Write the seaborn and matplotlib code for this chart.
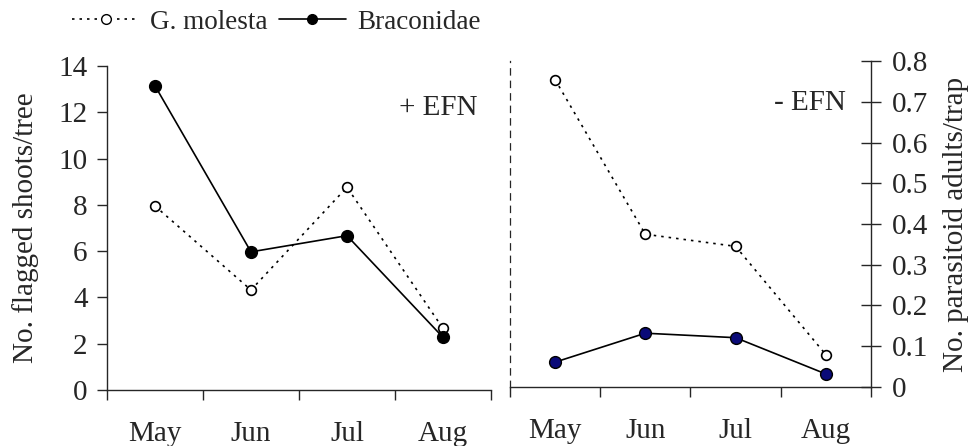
import numpy as np
import matplotlib
matplotlib.use("Agg")
import matplotlib.pyplot as plt
import seaborn as sns
from matplotlib.lines import Line2D

months = ["May", "Jun", "Jul", "Aug"]

# + EFN panel
molesta_plus = [7.95, 4.32, 8.76, 2.66]        # flagged shoots/tree
braconid_plus = [0.751, 0.341, 0.381, 0.130]   # parasitoid adults/trap

# - EFN panel
molesta_minus = [13.2, 6.56, 6.04, 1.39]
braconid_minus = [0.061, 0.132, 0.121, 0.032]

sns.set_style("ticks")
plt.rcParams["font.family"] = ["Liberation Serif", "DejaVu Serif"]
FS = 21
plt.rcParams["font.size"] = FS

dotted = (0, (1.5, 3))
x = np.arange(len(months))

fig = plt.figure(figsize=(9.69, 4.46), dpi=100)
ax1 = fig.add_axes([0.1104, 0.1256, 0.3963, 0.7265])
ax2 = fig.add_axes([0.5263, 0.1323, 0.3725, 0.7309])
ax1b = ax1.twinx()
ax2b = ax2.twinx()


def draw_panel(ax_l, ax_r, molesta, braconid, bcolor):
    sns.lineplot(x=x, y=molesta, ax=ax_l, color="black", linestyle=dotted, lw=1.2,
                 marker="o", markersize=7, markerfacecolor="white",
                 markeredgecolor="black", markeredgewidth=1.2)
    sns.lineplot(x=x, y=braconid, ax=ax_r, color="black", lw=1.2,
                 marker="o", markersize=8.5, markerfacecolor=bcolor,
                 markeredgecolor="black", markeredgewidth=1)
    ax_l.set_ylim(0, 14)
    ax_r.set_ylim(0, 0.8)
    for a in (ax_l, ax_r):
        a.set_xlim(-0.5, 3.5)
        a.set_facecolor("none")
        a.spines["top"].set_visible(False)
    ax_l.set_xticks(x)
    ax_l.set_xticklabels(months)
    ax_l.set_xticks(np.arange(-0.5, 4, 1), minor=True)
    ax_l.tick_params(axis="x", which="major", length=0, pad=22, labelsize=FS)
    ax_l.tick_params(axis="x", which="minor", length=7, width=1, direction="out")
    ax_l.spines["bottom"].set_linewidth(1)


draw_panel(ax1, ax1b, molesta_plus, braconid_plus, "black")
draw_panel(ax2, ax2b, molesta_minus, braconid_minus, "#0a0a78")

# left panel: visible left axis only
ax1.set_yticks(np.arange(0, 15, 2))
ax1.tick_params(axis="y", length=7, width=1, direction="out", labelsize=FS, pad=7)
ax1.set_ylabel("No. flagged shoots/tree", fontsize=FS, labelpad=14)
ax1.spines["right"].set_visible(False)
ax1.spines["left"].set_linewidth(1)
ax1b.set_yticks([])
ax1b.set_ylabel("")
for s in ax1b.spines.values():
    s.set_visible(False)

# right panel: dashed left spine, visible right axis
ax2.set_yticks([])
ax2.set_ylabel("")
ax2.spines["left"].set_linestyle((0, (5, 5)))
ax2.spines["left"].set_linewidth(0.9)
ax2.spines["right"].set_visible(False)
ax2b.set_yticks(np.arange(0, 0.81, 0.1))
ax2b.set_yticklabels(["0"] + [f"{v:.1f}" for v in np.arange(0.1, 0.81, 0.1)])
ax2b.tick_params(axis="y", length=14, width=1, direction="inout", labelsize=FS, pad=8)
ax2b.set_ylabel("No. parasitoid adults/trap", fontsize=FS, rotation=90, labelpad=11)
ax2b.spines["left"].set_visible(False)
ax2b.spines["bottom"].set_visible(False)
ax2b.spines["top"].set_visible(False)
ax2b.spines["right"].set_linewidth(1)

ax1.text(0.965, 0.87, "+ EFN", transform=ax1.transAxes, ha="right", va="center", fontsize=FS)
ax2.text(0.93, 0.87, "- EFN", transform=ax2.transAxes, ha="right", va="center", fontsize=FS)

for a in (ax1, ax1b, ax2, ax2b):
    if a.get_legend() is not None:
        a.get_legend().remove()

handles = [
    Line2D([], [], color="black", linestyle=dotted, lw=1.2, marker="o", markersize=7,
           markerfacecolor="white", markeredgecolor="black"),
    Line2D([], [], color="black", lw=1.2, marker="o", markersize=7,
           markerfacecolor="black", markeredgecolor="black"),
]
fig.legend(handles, ["G. molesta", "Braconidae"], loc="center left",
           bbox_to_anchor=(0.06, 0.95), ncol=2, frameon=False, fontsize=19.5,
           handlelength=2.5, handletextpad=0.4, columnspacing=0.4, borderpad=0)

fig.savefig("out.png", dpi=100)
